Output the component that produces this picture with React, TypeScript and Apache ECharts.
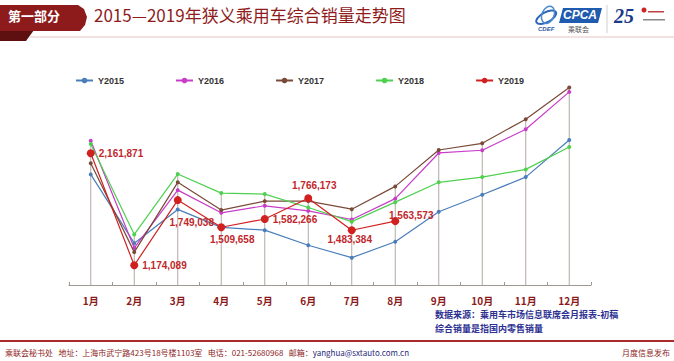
import React, { useEffect, useRef } from "react";
import * as echarts from "echarts";

const months = ["1月", "2月", "3月", "4月", "5月", "6月", "7月", "8月", "9月", "10月", "11月", "12月"];
const seriesNames = ["Y2015", "Y2016", "Y2017", "Y2018", "Y2019"];
const y2015 = [1976000, 1369000, 1667000, 1508000, 1484000, 1351000, 1241000, 1382000, 1646000, 1796000, 1952000, 2280000];
const y2016 = [2273000, 1327000, 1837000, 1637000, 1699000, 1654000, 1578000, 1762000, 2165000, 2189000, 2374000, 2704000];
const y2017 = [2074000, 1290000, 1906000, 1661000, 1740000, 1740000, 1669000, 1870000, 2191000, 2250000, 2463000, 2742000];
const y2018 = [2244000, 1446000, 1979000, 1811000, 1802000, 1684000, 1559000, 1731000, 1906000, 1952000, 2020000, 2218000];
const y2019 = [2161871, 1174089, 1749038, 1509658, 1582266, 1766173, 1483384, 1563573, null, null, null, null];
const axisMin = 1000000;
const axisMax = 2800000;

const titleText = "2015—2019年狭义乘用车综合销量走势图";
const sectionText = "第一部分";
const sourceText = "数据来源：乘用车市场信息联席会月报表-初稿";
const noteText = "综合销量是指国内零售销量";
const footerText = "乘联会秘书处   地址：上海市武宁路423号18号楼1103室   电话：021-52680968   邮箱：";
const footerEmail = "yanghua@sxtauto.com.cn";
const footerRight = "月度信息发布";

const colors = ["#4a7ebb", "#c83cc8", "#7a4a38", "#4fd04f", "#d02020"];
const CJK = "Noto Sans CJK SC";
const LAT = "Liberation Sans";

const labelLayout: any[] = [
  { position: "right", offset: [0, 0] },
  { position: "right", offset: [0, 0] },
  { position: "bottom", offset: [14, 9] },
  { position: "bottom", offset: [11, -1] },
  { position: "right", offset: [0, 0] },
  { position: "top", offset: [6, 0] },
  { position: "bottom", offset: [-2, -4] },
  { position: "top", offset: [16, 7] },
];

const fmt = (v: number) => v.toLocaleString("en-US");

const txt = (left: number, top: number, text: string, fill: string, size: number, family: string, extra: any = {}) => ({
  type: "text",
  left,
  top,
  style: { text, fill, fontSize: size, fontFamily: family, ...extra },
});

export default function App() {
  const ref = useRef<HTMLDivElement>(null);
  useEffect(() => {
    if (!ref.current) return;
    const chart = echarts.init(ref.current, null, { renderer: "svg" });
    const all = [y2015, y2016, y2017, y2018, y2019];
    const maxes = months.map((_, i) =>
      Math.max(...all.map((s) => (s[i] == null ? -Infinity : (s[i] as number))))
    );
    const lineSeries = all.map((d, k) => {
      const is19 = k === 4;
      return {
        name: seriesNames[k],
        type: "line",
        z: 3 + k,
        data: is19
          ? d.map((v, i) =>
              v == null
                ? null
                : {
                    value: v,
                    label: {
                      show: true,
                      position: labelLayout[i].position,
                      offset: labelLayout[i].offset,
                      formatter: (p: any) => fmt(p.value),
                      color: "#c0282d",
                      fontSize: 10,
                      fontWeight: "bold",
                      fontFamily: LAT,
                      distance: 4,
                    },
                  }
            )
          : d,
        symbol: "circle",
        symbolSize: is19 ? 8 : 4,
        showSymbol: true,
        connectNulls: false,
        lineStyle: { color: colors[k], width: 1.2 },
        itemStyle: { color: colors[k] },
        emphasis: { disabled: true },
      };
    });
    chart.setOption({
      animation: false,
      backgroundColor: "#ffffff",
      grid: { left: 69, right: 83, top: 81, bottom: 76 },
      legend: {
        data: seriesNames,
        top: 71,
        left: 70,
        itemGap: 51,
        itemWidth: 17,
        itemHeight: 7,
        textStyle: { fontSize: 9, fontWeight: "bold", color: "#333", fontFamily: LAT },
      },
      xAxis: {
        type: "category",
        data: months,
        boundaryGap: true,
        axisLine: { lineStyle: { color: "#a09890", width: 1 } },
        axisTick: { show: true, inside: true, length: 3, lineStyle: { color: "#a09890" } },
        axisLabel: {
          color: "#8b1a1a",
          fontSize: 10,
          fontWeight: "bold",
          margin: 10,
          fontFamily: CJK,
        },
        splitLine: { show: false },
      },
      yAxis: { type: "value", min: axisMin, max: axisMax, show: false, splitLine: { show: false } },
      series: [
        {
          name: "drop",
          type: "custom",
          z: 1,
          silent: true,
          data: maxes.map((v, i) => [i, v]),
          encode: { x: 0, y: 1 },
          renderItem: (params: any, api: any) => {
            const top = api.coord([api.value(0), api.value(1)]);
            const bot = api.coord([api.value(0), axisMin]);
            return {
              type: "line",
              shape: { x1: top[0], y1: top[1], x2: bot[0], y2: bot[1] },
              style: { stroke: "#b3aaa2", lineWidth: 1 },
            };
          },
        },
        ...lineSeries,
      ],
      graphic: [
        // header tab
        {
          type: "polygon",
          shape: { points: [[0, 30], [34, 30], [26, 41], [0, 41]] },
          style: { fill: "#5e1010" },
        },
        {
          type: "polygon",
          shape: { points: [[0, 5], [78, 5], [84, 9], [87, 17], [85, 25], [80, 31], [0, 31]] },
          style: { fill: "#8e1b1b" },
        },
        txt(8, 9, sectionText, "#ffffff", 13, CJK, { fontWeight: "bold" }),
        txt(94, 6, titleText, "#8e1c1c", 17, CJK),
        { type: "line", shape: { x1: 30, y1: 37, x2: 674, y2: 37 }, style: { stroke: "#e6c4c4", lineWidth: 1 } },
        // CPCA logo
        { type: "ellipse", shape: { cx: 546, cy: 17, rx: 11, ry: 5 }, rotation: 0.5, originX: 546, originY: 17, style: { fill: "none", stroke: "#2e66b8", lineWidth: 2 } },
        { type: "ellipse", shape: { cx: 548, cy: 15, rx: 6, ry: 9 }, rotation: -0.4, originX: 548, originY: 15, style: { fill: "none", stroke: "#4a8ad0", lineWidth: 1.5 } },
        txt(538, 26, "CDEF", "#2e5aa0", 6, LAT, { fontWeight: "bold", fontStyle: "italic" }),
        { type: "polygon", shape: { points: [[563, 8], [602, 8], [598, 23], [559, 23]] }, style: { fill: "#1f5cb0" } },
        txt(563, 9, "CPCA", "#ffffff", 12, LAT, { fontWeight: "bold", fontStyle: "italic" }),
        txt(568, 25, "乘联会", "#555", 7, CJK),
        { type: "line", shape: { x1: 607, y1: 5, x2: 607, y2: 33 }, style: { stroke: "#cfcfcf", lineWidth: 1 } },
        txt(614, 6, "25", "#1a3a8a", 20, "Liberation Serif", { fontWeight: "bold", fontStyle: "italic" }),
        { type: "circle", shape: { cx: 644, cy: 10, r: 2.5 }, style: { fill: "#d02020" } },
        { type: "rect", shape: { x: 648, y: 11, width: 16, height: 1.5 }, style: { fill: "#c04040" } },
        { type: "rect", shape: { x: 643, y: 19, width: 22, height: 1.5 }, style: { fill: "#888" } },
        // source note
        txt(435, 310, sourceText, "#2e3192", 9, CJK, { fontWeight: "bold" }),
        txt(435, 324, noteText, "#2e3192", 9, CJK, { fontWeight: "bold" }),
        // footer
        { type: "line", shape: { x1: 0, y1: 341, x2: 674, y2: 341 }, style: { stroke: "#a82a2a", lineWidth: 2 } },
        {
          type: "text",
          left: 5,
          top: 348,
          style: {
            text: footerText + "{u|" + footerEmail + "}",
            rich: { u: { fill: "#2a2a7a", fontSize: 8, fontFamily: CJK } } as any,
            fill: "#8e1c1c",
            fontSize: 8,
            fontFamily: CJK,
          },
        },
        { type: "text", right: 4, top: 348, style: { text: footerRight, fill: "#8e1c1c", fontSize: 8, fontFamily: CJK } },
      ],
    });
    return () => chart.dispose();
  }, []);
  return (
    <div
      ref={ref}
      style={{ position: "fixed", left: 0, top: 0, width: 674, height: 361, background: "#fff" }}
    />
  );
}
